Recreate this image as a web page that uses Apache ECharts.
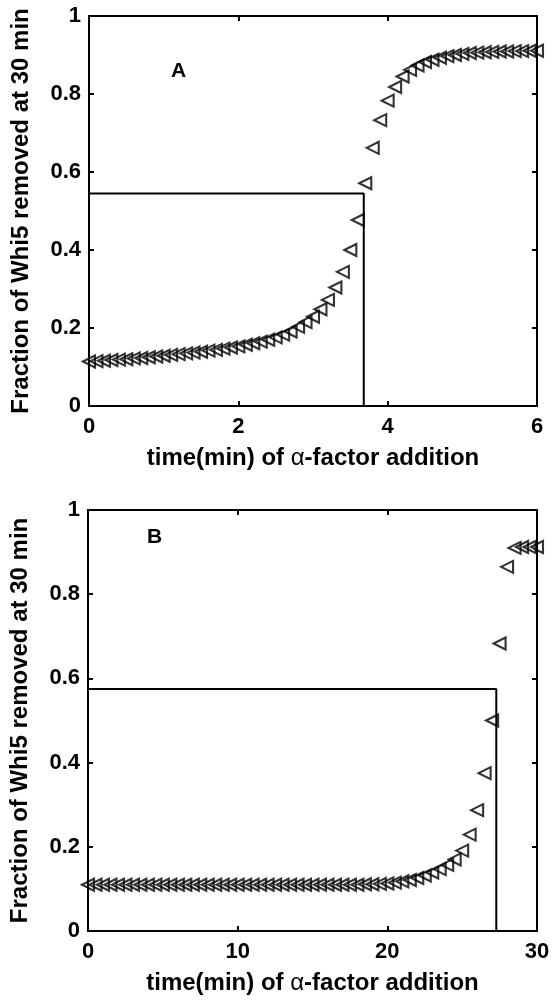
<!DOCTYPE html>
<html>
<head>
<meta charset="utf-8">
<script src="https://cdn.jsdelivr.net/npm/echarts@6/dist/echarts.min.js"></script>
<style>html,body{margin:0;padding:0;background:#fff;}#c{width:553px;height:1002px;}</style>
</head>
<body>
<div id="c"></div>
<script>
// Panel A: time (min) of alpha-factor addition, step 0.1 from 0 to 6
const timeA = [0.0,0.1,0.2,0.3,0.4,0.5,0.6,0.7,0.8,0.9,1.0,1.1,1.2,1.3,1.4,1.5,1.6,1.7,1.8,1.9,2.0,2.1,2.2,2.3,2.4,2.5,2.6,2.7,2.8,2.9,3.0,3.1,3.2,3.3,3.4,3.5,3.6,3.7,3.8,3.9,4.0,4.1,4.2,4.3,4.4,4.5,4.6,4.7,4.8,4.9,5.0,5.1,5.2,5.3,5.4,5.5,5.6,5.7,5.8,5.9,6.0];
const fracA = [0.114,0.115,0.116,0.118,0.119,0.120,0.122,0.123,0.125,0.127,0.129,0.131,0.133,0.135,0.137,0.139,0.142,0.144,0.147,0.150,0.153,0.157,0.161,0.165,0.170,0.176,0.183,0.191,0.203,0.215,0.229,0.248,0.272,0.304,0.344,0.400,0.477,0.571,0.662,0.733,0.783,0.818,0.845,0.862,0.873,0.882,0.888,0.893,0.897,0.900,0.903,0.905,0.906,0.907,0.908,0.909,0.909,0.910,0.910,0.911,0.911];
// Panel B: step 0.5 from 0 to 30
const timeB = [0,0.5,1,1.5,2,2.5,3,3.5,4,4.5,5,5.5,6,6.5,7,7.5,8,8.5,9,9.5,10,10.5,11,11.5,12,12.5,13,13.5,14,14.5,15,15.5,16,16.5,17,17.5,18,18.5,19,19.5,20,20.5,21,21.5,22,22.5,23,23.5,24,24.5,25,25.5,26,26.5,27,27.5,28,28.5,29,29.5,30];
const fracB = [0.110,0.110,0.110,0.110,0.110,0.110,0.110,0.110,0.110,0.110,0.110,0.110,0.110,0.110,0.110,0.110,0.110,0.110,0.110,0.110,0.110,0.110,0.110,0.110,0.110,0.110,0.110,0.110,0.110,0.110,0.110,0.110,0.110,0.110,0.110,0.110,0.110,0.111,0.111,0.112,0.113,0.115,0.118,0.121,0.126,0.132,0.139,0.147,0.157,0.170,0.191,0.229,0.287,0.375,0.500,0.683,0.865,0.910,0.912,0.912,0.912];
// Threshold guide lines [time, fraction]
const guideA = [3.68, 0.545];
const guideB = [27.28, 0.575];
const yTicks = [0, 0.2, 0.4, 0.6, 0.8, 1];
const xMaxA = 6, xStepA = 2;
const xMaxB = 30, xStepB = 10;
const yLabel = 'Fraction of Whi5 removed at 30 min';
const xLabel = 'time(min) of {a|α}-factor addition';
const panelLabels = ['A', 'B'];

const FONT = '"Liberation Sans", Arial, sans-serif';
const chart = echarts.init(document.getElementById('c'), null, {renderer: 'canvas'});

function pairs(xs, ys) { return xs.map((x, i) => [x, ys[i]]); }
function guide(g) { return [[0, g[1]], [g[0], g[1]], [g[0], 0]]; }

const lineStyle = {color: '#000', width: 2};
const tickStyle = {show: true, inside: true, length: 5, lineStyle: {color: '#000', width: 2}};
const labelStyle = {color: '#000', fontFamily: FONT, fontWeight: 'bold', fontSize: 22};
const nameStyle = {color: '#000', fontFamily: FONT, fontWeight: 'bold', fontSize: 24,
  rich: {a: {fontFamily: FONT, fontWeight: 'normal', fontSize: 24, color: '#000'}}};

function xAx(grid, max, step, pos, showLabel) {
  return {
    type: 'value', gridIndex: grid, min: 0, max: max, interval: step, position: pos,
    axisLine: {show: true, onZero: false, lineStyle: lineStyle},
    axisTick: tickStyle, splitLine: {show: false},
    axisLabel: Object.assign({show: showLabel, margin: 10}, labelStyle),
    name: showLabel ? xLabel : '', nameLocation: 'middle', nameGap: 40, nameTextStyle: nameStyle
  };
}
function yAx(grid, pos, showLabel) {
  return {
    type: 'value', gridIndex: grid, min: 0, max: 1, interval: 0.2, position: pos,
    axisLine: {show: true, onZero: false, lineStyle: lineStyle},
    axisTick: tickStyle, splitLine: {show: false},
    axisLabel: Object.assign({show: showLabel, margin: 8,
      formatter: v => String(yTicks.find(t => Math.abs(t - v) < 1e-9) ?? v)}, labelStyle),
    name: showLabel ? yLabel : '', nameLocation: 'middle', nameGap: 56, nameTextStyle: nameStyle
  };
}

const markerPath = 'path://M0,5L10,0L10,10Z';
function scatter(xi, yi, data) {
  return {
    type: 'scatter', xAxisIndex: xi, yAxisIndex: yi, data: data, clip: false,
    symbol: markerPath, symbolSize: [12, 12],
    itemStyle: {color: 'rgba(0,0,0,0)', borderColor: '#000', borderWidth: 2.1},
    z: 3, silent: true
  };
}
function guideSeries(xi, yi, data) {
  return {
    type: 'line', xAxisIndex: xi, yAxisIndex: yi, data: data, showSymbol: false, symbol: 'none',
    lineStyle: {color: '#000', width: 2}, z: 2, silent: true, animation: false
  };
}

chart.setOption({
  animation: false,
  backgroundColor: '#fff',
  grid: [
    {left: 89, right: 16, top: 16, height: 390},
    {left: 88, right: 16, top: 510, height: 421}
  ],
  xAxis: [
    xAx(0, xMaxA, xStepA, 'bottom', true),
    xAx(0, xMaxA, xStepA, 'top', false),
    xAx(1, xMaxB, xStepB, 'bottom', true),
    xAx(1, xMaxB, xStepB, 'top', false)
  ],
  yAxis: [
    yAx(0, 'left', true),
    yAx(0, 'right', false),
    yAx(1, 'left', true),
    yAx(1, 'right', false)
  ],
  series: [
    guideSeries(0, 0, guide(guideA)),
    scatter(0, 0, pairs(timeA, fracA)),
    guideSeries(2, 2, guide(guideB)),
    scatter(2, 2, pairs(timeB, fracB))
  ],
  graphic: [
    {type: 'text', left: 171, top: 61, style: {text: panelLabels[0], font: 'bold 21px ' + FONT, fill: '#000'}},
    {type: 'text', left: 147, top: 527, style: {text: panelLabels[1], font: 'bold 21px ' + FONT, fill: '#000'}}
  ]
});
</script>
</body>
</html>
